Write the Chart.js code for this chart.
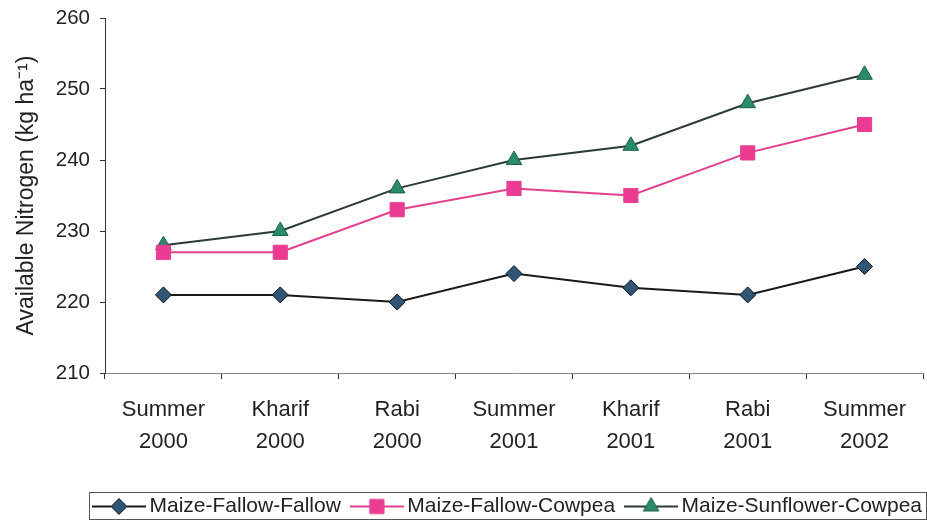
<!DOCTYPE html>
<html>
<head>
<meta charset="utf-8">
<script src="https://cdn.jsdelivr.net/npm/chart.js@4/dist/chart.umd.min.js"></script>
<style>
html,body{margin:0;padding:0;background:#fff;}
#wrap{width:927px;height:527px;position:relative;}
</style>
</head>
<body>
<div id="wrap"><canvas id="c" width="927" height="527"></canvas></div>
<script>
const categories = [["Summer","2000"],["Kharif","2000"],["Rabi","2000"],["Summer","2001"],["Kharif","2001"],["Rabi","2001"],["Summer","2002"]];
const fallowFallow = [221, 221, 220, 224, 222, 221, 225];
const fallowCowpea = [227, 227, 233, 236, 235, 241, 245];
const sunflowerCowpea = [228, 230, 236, 240, 242, 248, 252];
const yTicks = [210, 220, 230, 240, 250, 260];
const seriesNames = ["Maize-Fallow-Fallow", "Maize-Fallow-Cowpea", "Maize-Sunflower-Cowpea"];

const FONT = "'Liberation Sans', Arial, sans-serif";

function legendIcon(lineColor, fill, border, style, r) {
  const W = 54, H = 20, cx = W / 2, cy = H / 2;
  const cv = document.createElement('canvas');
  cv.width = W; cv.height = H;
  const ctx = cv.getContext('2d');
  ctx.strokeStyle = lineColor; ctx.lineWidth = 2;
  ctx.beginPath(); ctx.moveTo(0, cy); ctx.lineTo(W, cy); ctx.stroke();
  ctx.fillStyle = fill; ctx.strokeStyle = border; ctx.lineWidth = 1;
  ctx.beginPath();
  if (style === 'rectRot') { ctx.moveTo(cx, cy - r); ctx.lineTo(cx + r, cy); ctx.lineTo(cx, cy + r); ctx.lineTo(cx - r, cy); }
  else if (style === 'rect') { const s = r * Math.SQRT1_2; ctx.rect(cx - s, cy - s, 2 * s, 2 * s); }
  else { ctx.moveTo(cx, cy - r); ctx.lineTo(cx + r * 0.866, cy + r * 0.5); ctx.lineTo(cx - r * 0.866, cy + r * 0.5); }
  ctx.closePath(); ctx.fill(); ctx.stroke();
  return cv;
}

const styles = [
  {line: '#1a1a1a', fill: '#2f5577', border: '#111', style: 'rectRot', r: 8},
  {line: '#e2408e', fill: '#ec3b92', border: '#e2408e', style: 'rect', r: 10},
  {line: '#2b3b36', fill: '#2a8a6c', border: '#1e5e4a', style: 'triangle', r: 9}
];
const icons = styles.map(s => legendIcon(s.line, s.fill, s.border, s.style, s.r));

const LEGEND_SHIFT = 49;
const legendBox = {
  id: 'legendBox',
  afterLayout(chart) {
    const lg = chart.legend;
    if (!lg) return;
    lg.left += LEGEND_SHIFT; lg.right += LEGEND_SHIFT;
    (lg.legendHitBoxes || []).forEach(h => { h.left += LEGEND_SHIFT; });
  },
  afterDraw(chart) {
    const lg = chart.legend;
    if (!lg || !lg.legendHitBoxes || !lg.legendHitBoxes.length) return;
    const hb = lg.legendHitBoxes;
    const l = Math.min(...hb.map(h => h.left)) - 10;
    const r = Math.max(...hb.map(h => h.left + h.width)) + 4;
    const cy = hb[0].top + hb[0].height / 2;
    const t = cy - 15, b = cy + 12;
    const ctx = chart.ctx;
    ctx.save();
    ctx.strokeStyle = '#555'; ctx.lineWidth = 1;
    ctx.strokeRect(Math.round(l) + 0.5, Math.round(t) + 0.5, Math.round(r - l), Math.round(b - t));
    ctx.restore();
  }
};

new Chart(document.getElementById('c'), {
  type: 'line',
  data: {
    labels: categories,
    datasets: [
      {label: seriesNames[0], data: fallowFallow, borderColor: styles[0].line, backgroundColor: styles[0].fill, pointBackgroundColor: styles[0].fill, pointBorderColor: styles[0].border, pointStyle: 'rectRot', pointRadius: 8, pointBorderWidth: 1, borderWidth: 2, tension: 0},
      {label: seriesNames[1], data: fallowCowpea, borderColor: styles[1].line, backgroundColor: styles[1].fill, pointBackgroundColor: styles[1].fill, pointBorderColor: styles[1].border, pointStyle: 'rect', pointRadius: 10, pointBorderWidth: 1, borderWidth: 2, tension: 0},
      {label: seriesNames[2], data: sunflowerCowpea, borderColor: styles[2].line, backgroundColor: styles[2].fill, pointBackgroundColor: styles[2].fill, pointBorderColor: styles[2].border, pointStyle: 'triangle', pointRadius: 9, pointBorderWidth: 1, borderWidth: 2, tension: 0}
    ]
  },
  options: {
    responsive: false,
    animation: false,
    layout: {autoPadding: false, padding: {top: 18, right: 4, bottom: 0, left: 0}},
    plugins: {
      tooltip: {enabled: false},
      legend: {
        position: 'bottom',
        align: 'center',
        labels: {
          usePointStyle: true,
          pointStyleWidth: 40,
          boxHeight: 20,
          padding: 16,
          color: '#222',
          font: {family: FONT, size: 21},
          generateLabels(chart) {
            return chart.data.datasets.map((ds, i) => ({
              text: ds.label, pointStyle: icons[i], fillStyle: ds.backgroundColor,
              strokeStyle: ds.borderColor, lineWidth: 0, hidden: false, datasetIndex: i, fontColor: '#222'
            }));
          }
        }
      }
    },
    scales: {
      x: {
        offset: true,
        border: {display: true, color: '#888', width: 1},
        grid: {display: true, offset: true, drawOnChartArea: false, drawTicks: true, tickLength: 6, color: '#333'},
        ticks: {color: '#222', font: {family: FONT, size: 22, lineHeight: 1.45}, padding: 15, maxRotation: 0, autoSkip: false},
        afterFit(s) { s.height = 107; s.paddingLeft = 0; s.paddingRight = 0; }
      },
      y: {
        min: 210, max: 260,
        afterBuildTicks(s) { s.ticks = yTicks.map(v => ({value: v})); },
        border: {display: true, color: '#333', width: 1},
        grid: {display: true, drawOnChartArea: false, drawTicks: true, tickLength: 5, color: '#333'},
        ticks: {color: '#222', font: {family: FONT, size: 20.5}, padding: 10},
        title: {display: true, text: 'Available Nitrogen (kg ha\u207B\u00B9)', color: '#222', font: {family: FONT, size: 23}, padding: {top: 13, bottom: 4}},
        afterFit(s) { s.width = 105; s.paddingTop = 0; s.paddingBottom = 0; }
      }
    }
  },
  plugins: [legendBox]
});
</script>
</body>
</html>
